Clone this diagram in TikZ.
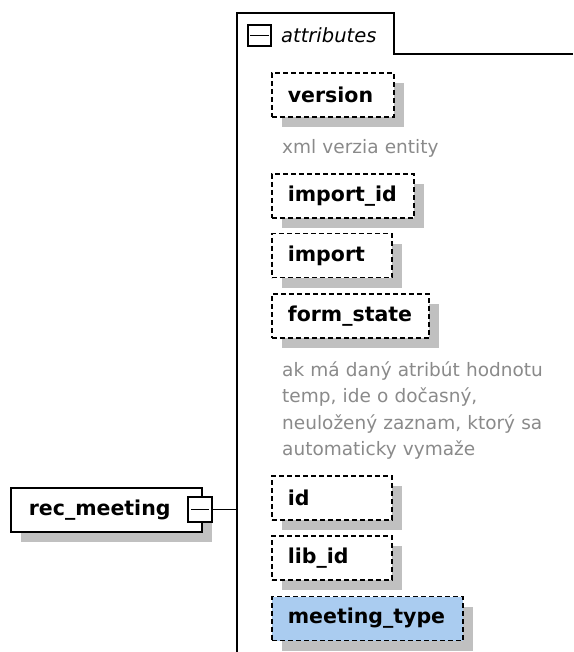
\documentclass[tikz,border=0pt]{standalone}
\usepackage{fontspec}
\setmainfont{DejaVu Sans}
\definecolor{shadowgray}{RGB}{192,192,192}
\definecolor{descgray}{RGB}{138,138,138}
\definecolor{keyblue}{RGB}{170,204,240}
\tikzset{
  shadowed/.style={preaction={fill=shadowgray, draw=none, transform canvas={xshift=10pt, yshift=-10pt}}},
  labelfont/.style={font=\fontsize{20.5}{24}\selectfont\bfseries},
  attrnode/.style={rectangle, draw, fill=white, shadowed, labelfont, line width=1.7pt,
    dash pattern=on 5pt off 3pt, minimum height=44pt, inner ysep=0pt, inner xsep=16pt,
    text width=#1, align=left, anchor=west},
  togglebox/.style={rectangle, draw, fill=white, line width=1.7pt, inner sep=0pt},
  desc/.style={text=descgray, font=\fontsize{18.5}{26.5}\selectfont, inner sep=0pt,
    text width=290pt, align=left, anchor=base west}
}
\begin{document}
\begin{tikzpicture}[x=1pt, y=-1pt]
\useasboundingbox (0,0) rectangle (573,652);
% attributes frame
\draw[line width=1.7pt] (237,652) -- (237,13) -- (394,13) -- (394,54) -- (573,54);
\node[togglebox, minimum width=23pt, minimum height=21pt] (attrtoggle) at (259.5,35.5) {};
\draw[line width=1.7pt] ([xshift=3pt]attrtoggle.west) -- ([xshift=-3pt]attrtoggle.east);
\node[anchor=west, inner sep=0pt, font=\fontsize{19.5}{24}\selectfont\itshape] (attrlabel) at (281,35) {attributes};
\coordinate (attrline) at (237,509.5);

% root element
\node[rectangle, draw, fill=white, shadowed, labelfont, line width=1.7pt, minimum height=44pt,
  inner ysep=0pt, inner xsep=18pt, text width=155pt, align=left, anchor=west] (recmeeting) at (10,510) {rec\_meeting};
\node[togglebox, minimum width=24pt, minimum height=25pt] (roottoggle) at (200,509.5) {};
\draw[line width=1.7pt] ([xshift=4pt]roottoggle.west) -- ([xshift=-4pt]roottoggle.east);
\draw[line width=1.7pt] (roottoggle.east) -- (attrline);

% attributes
\begin{scope}
    \node[attrnode=90pt] (version) at (271,95) {version};
    \node[attrnode=110pt] (importid) at (271,196) {import\_id};
    \node[attrnode=88pt] (import) at (271,255.5) {import};
    \node[attrnode=125pt] (formstate) at (271,316) {form\_state};
    \node[attrnode=88pt] (id) at (271,498) {id};
    \node[attrnode=88pt] (libid) at (271,558) {lib\_id};
    \node[attrnode=159pt, fill=keyblue] (meetingtype) at (271,618.5) {meeting\_type};
\end{scope}

% annotations
\node[desc] (versiondesc) at (282,154) {xml verzia entity};
\node[desc] (formstatedesc) at (282,376) {ak má daný atribút hodnotu\\temp, ide o dočasný,\\neuložený zaznam, ktorý sa\\automaticky vymaže};
\end{tikzpicture}
\end{document}
